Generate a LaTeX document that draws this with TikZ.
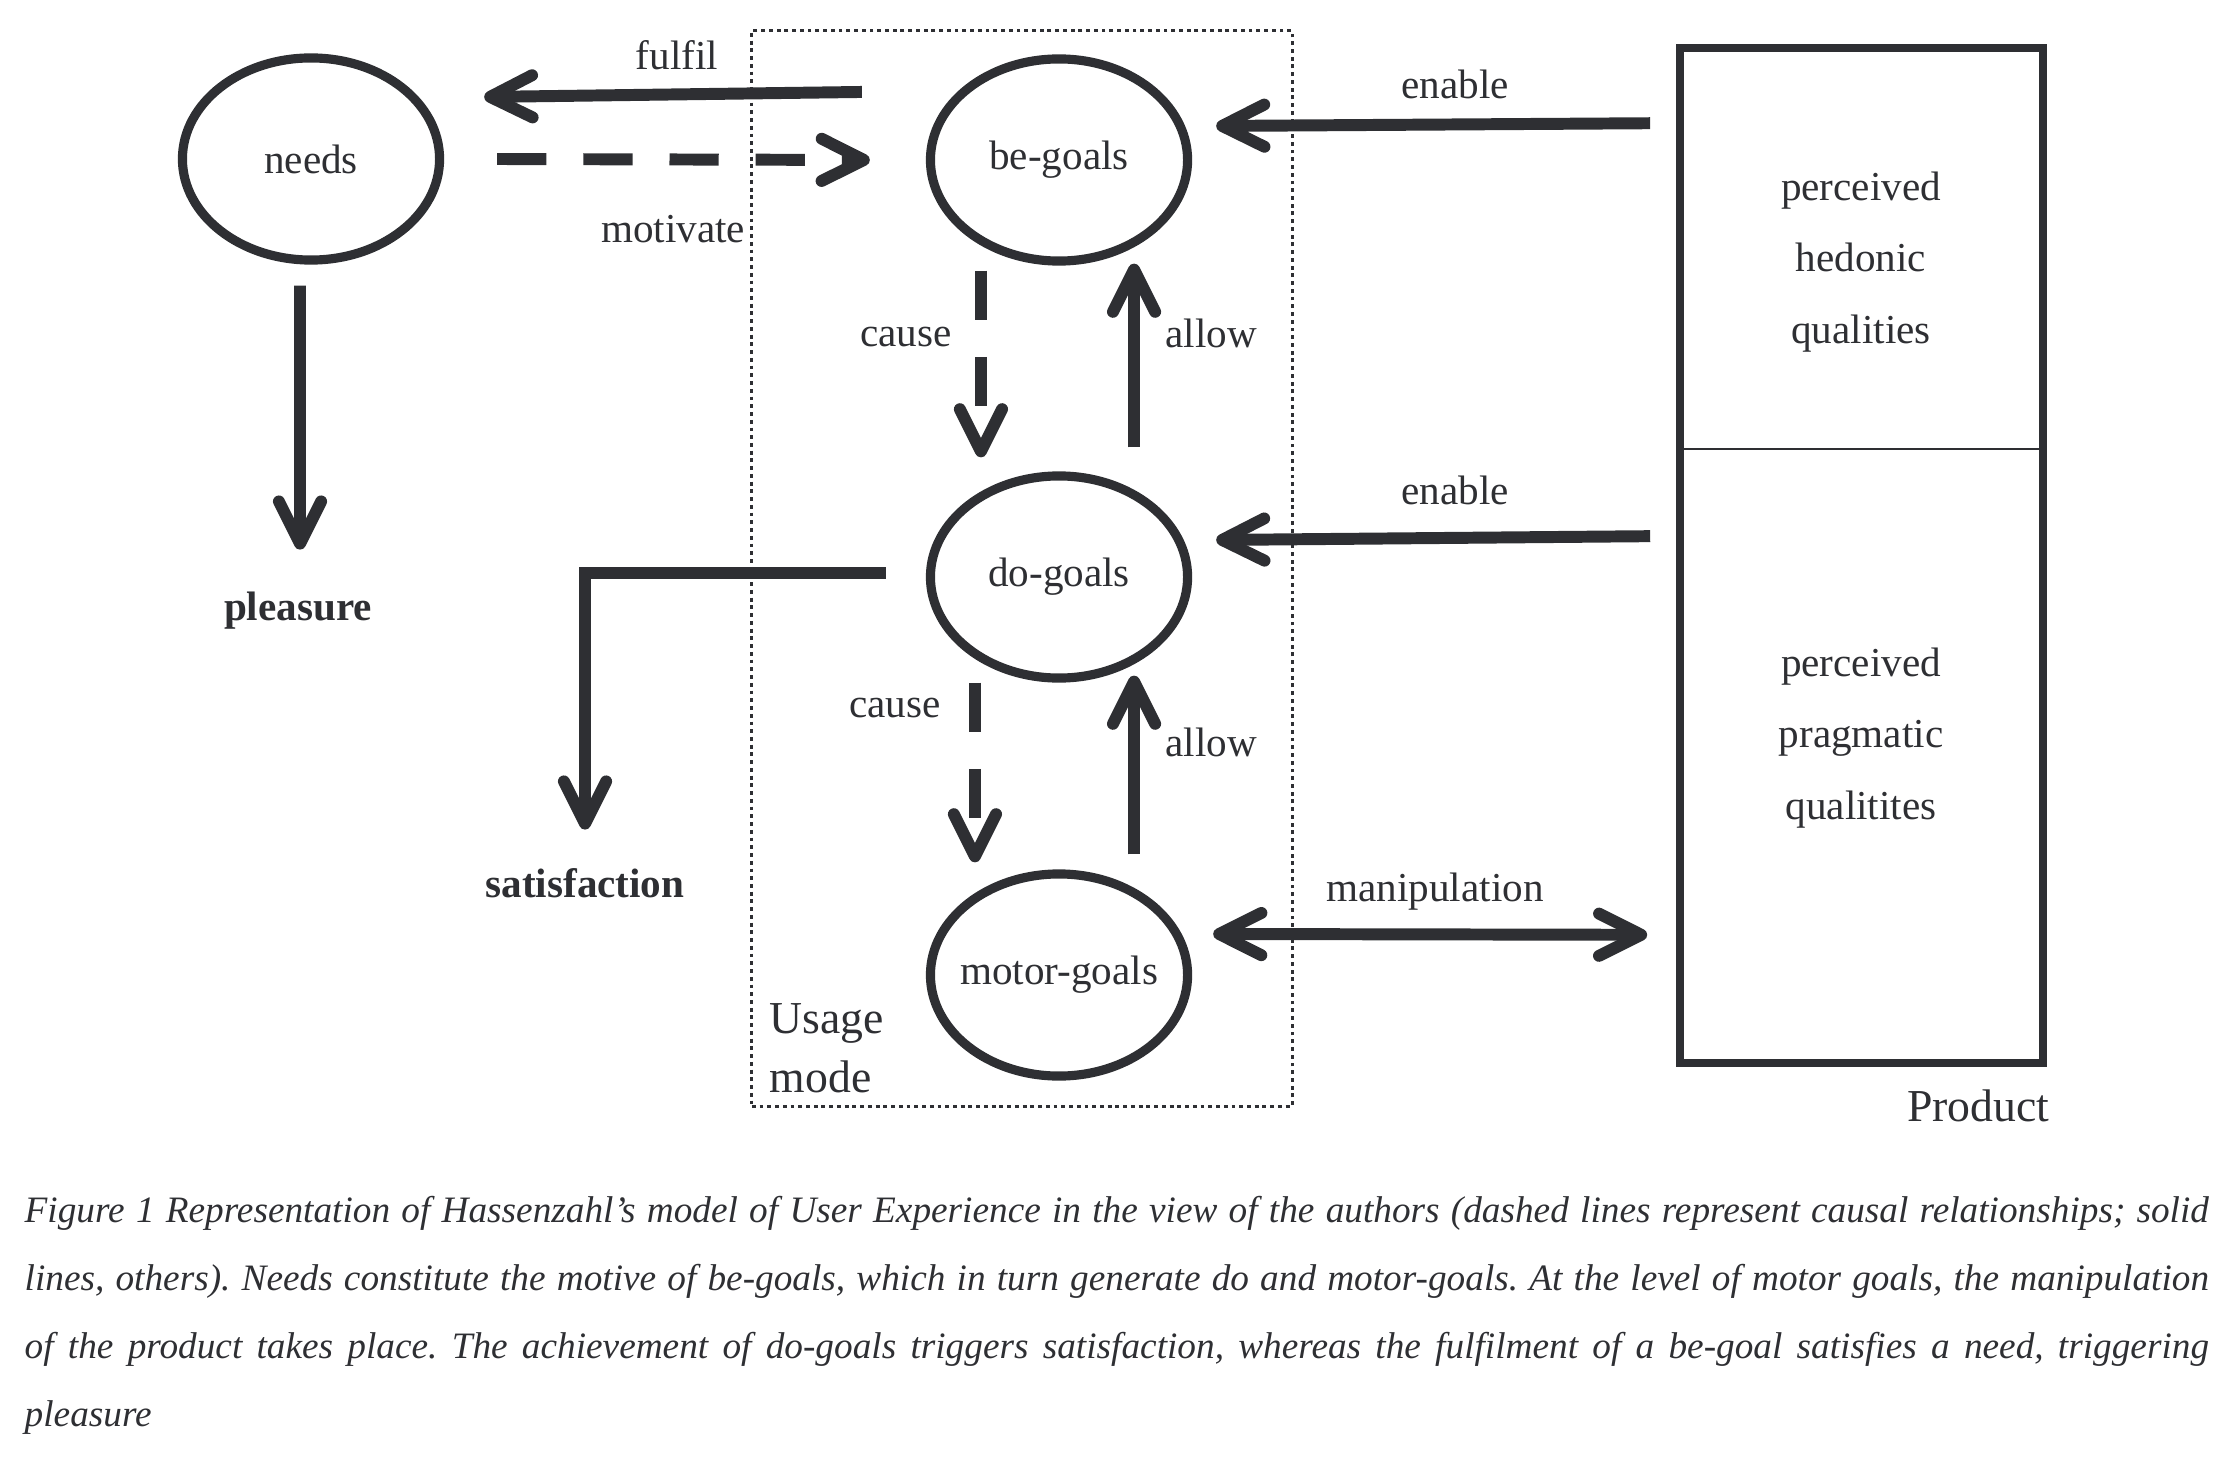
\documentclass[tikz,border=0pt]{standalone}
\usepackage{fontspec}
\setmainfont{Liberation Serif}
\usepackage{tikz}
\usetikzlibrary{arrows.meta,shapes.geometric,positioning,calc}
\definecolor{ink}{HTML}{2E2F33}
\newcommand\diagfont{\fontsize{11.7pt}{14pt}\selectfont}
\newcommand\bigfont{\fontsize{13pt}{16.8pt}\selectfont}

\begin{document}
\begin{tikzpicture}[x=0.01cm,y=-0.01cm]
      \tikzstyle{every node}=[text=ink]
      \tikzstyle{goal}=[draw=ink,ellipse,line width=2.6pt,minimum width=2.57cm,minimum height=2.02cm,inner sep=0pt,font=\diagfont]
      \tikzstyle{lbl}=[inner sep=0pt,font=\diagfont]
      \tikzstyle{result}=[inner sep=0pt,font=\diagfont\bfseries]
      \tikzstyle{half}=[rectangle,minimum width=3.61cm,inner sep=0pt]
      \tikzstyle{qual}=[inner sep=0pt,align=center,font=\fontsize{11.7pt}{20.4pt}\selectfont]
      \tikzstyle{link}=[draw=ink,line width=3.4pt,>={Straight Barb[length=12pt,width=12pt,round]}]
      \tikzstyle{causal}=[link,dash pattern=on 14pt off 10.5pt]
      \useasboundingbox (0,0) rectangle (2228,1464);
      % usage mode frame
      \node[draw=ink,line width=0.8pt,dash pattern=on 1.1pt off 1.1pt,minimum width=5.4cm,minimum height=10.75cm,inner sep=0pt] (usage) at (1022,568.5) {};
      \node[inner sep=0pt,anchor=west,align=left,font=\bigfont] (usagelbl) at (769,1048) {Usage\\mode};
      % goals
      \node[goal] (needs) at (311,159) {needs};
      \node[goal] (begoals) at (1059,160) {be-goals};
      \node[goal] (dogoals) at (1059,577) {do-goals};
      \node[goal,inner xsep=-2.6pt] (motorgoals) at (1059,975) {motor-goals};
      \node[result] (pleasure) at (298,611) {pleasure};
      \node[result] (satisfaction) at (585,883) {satisfaction};
      % product
      \node[half,minimum height=3.99cm] (hedonic) at (1861.5,248.5) {};
      \node[half,minimum height=6.14cm] (pragmatic) at (1861.5,755) {};
      \draw[ink,line width=2.3pt] (hedonic.north west) rectangle (pragmatic.south east);
      \draw[ink,line width=0.6pt] (hedonic.south west) -- (hedonic.south east);
      \node[qual] (hedtext) at (1861,262) {perceived\\hedonic\\qualities};
      \node[qual] (pragtext) at (1861,738) {perceived\\pragmatic\\qualitites};
      \node[inner sep=0pt,anchor=east,font=\bigfont] (product) at (2050,1106) {Product};
      % connectors
      \draw[link,->] ([xshift=-0.64cm,yshift=0.68cm]begoals.west) -- ([xshift=0.4cm,yshift=0.62cm]needs.east);
      \draw[causal,->] ([xshift=0.53cm]needs.east) -- ([xshift=-0.56cm]begoals.west);
      \draw[link,->] ([xshift=-0.11cm,yshift=-0.21cm]needs.south) -- ([xshift=0.02cm,yshift=0.42cm]pleasure.north);
      \draw[causal,->] ([xshift=-0.78cm,yshift=-0.05cm]begoals.south) -- ([xshift=-0.78cm,yshift=0.14cm]dogoals.north);
      \draw[link,->] ([xshift=0.75cm,yshift=0.24cm]dogoals.north) -- ([xshift=0.75cm,yshift=0.02cm]begoals.south);
      \draw[link,->] ([xshift=-0.4cm,yshift=0.04cm]dogoals.west) -| ([yshift=0.38cm]satisfaction.north);
      \draw[causal,->] ([xshift=-0.84cm]dogoals.south) -- ([xshift=-0.84cm,yshift=0.07cm]motorgoals.north);
      \draw[link,->] ([xshift=0.75cm,yshift=0.15cm]motorgoals.north) -- ([xshift=0.75cm,yshift=0.07cm]dogoals.south);
      \draw[link,->] ([xshift=-0.3cm,yshift=-0.75cm]hedonic.north west) -- ([xshift=0.24cm,yshift=0.34cm]begoals.east);
      \draw[link,->] ([xshift=-0.3cm,yshift=-0.89cm]pragmatic.north west) -- ([xshift=0.24cm,yshift=0.37cm]dogoals.east);
      \draw[link,<->] ([xshift=0.21cm,yshift=0.41cm]motorgoals.east) -- ([xshift=-0.33cm,yshift=1.28cm]pragmatic.south west);
      % labels
      \node[lbl] (fulfil) at (677,55) {fulfil};
      \node[lbl] (motivate) at (673,229) {motivate};
      \node[lbl] (cause1) at (906,337) {cause};
      \node[lbl] (allow1) at (1211,333) {allow};
      \node[lbl] (cause2) at (895,708) {cause};
      \node[lbl] (allow2) at (1211,742) {allow};
      \node[lbl] (enable1) at (1455,84) {enable};
      \node[lbl] (enable2) at (1455,490) {enable};
      \node[lbl] (manip) at (1435,892) {manipulation};
      % caption
      \node[inner sep=0pt,anchor=base west] (caption) at (24,1222) {\parbox[t]{21.83cm}{\fontsize{10.6pt}{19.35pt}\selectfont\itshape\frenchspacing
        Figure 1 Representation of Hassenzahl’s model of User Experience in the view of the authors (dashed lines represent causal relationships; solid\linebreak
        lines, others). Needs constitute the motive of be-goals, which in turn generate do and motor-goals. At the level of motor goals, the manipulation\linebreak
        of the product takes place. The achievement of do-goals triggers satisfaction, whereas the fulfilment of a be-goal satisfies a need, triggering\linebreak
        pleasure}};
\end{tikzpicture}
\end{document}
